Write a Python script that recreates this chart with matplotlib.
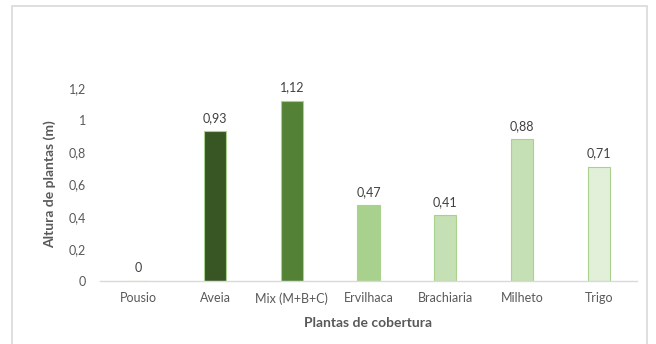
import matplotlib
matplotlib.use("Agg")
import matplotlib.pyplot as plt
from matplotlib.patches import Rectangle

categories = ["Pousio", "Aveia", "Mix (M+B+C)", "Ervilhaca", "Brachiaria", "Milheto", "Trigo"]
values = [0, 0.93, 1.12, 0.47, 0.41, 0.88, 0.71]
labels = ["0", "0,93", "1,12", "0,47", "0,41", "0,88", "0,71"]
yticks = [0, 0.2, 0.4, 0.6, 0.8, 1.0, 1.2]
yticklabels = ["0", "0,2", "0,4", "0,6", "0,8", "1", "1,2"]
colors = ["#c5e0b4", "#375623", "#538135", "#a9d18e", "#c5e0b4", "#c5e0b4", "#e2f0d9"]

plt.rcParams['font.family'] = ['Lato', 'DejaVu Sans']

fig = plt.figure(figsize=(6.56, 3.44), dpi=100)
fig.patch.set_facecolor("white")
fig.add_artist(Rectangle((12/656, -0.05), (647-12)/656, 1 - 6/344 + 0.05,
                         transform=fig.transFigure, fill=False,
                         edgecolor="#d9d9d9", linewidth=1.2))

ax = fig.add_axes([100/656, 1-281/344, 537/656, (281-88)/344])
x = range(len(categories))
ax.bar(x, values, width=0.29, color=colors, edgecolor="#a9d18e", linewidth=0.8, zorder=2)
for xi, v, lab in zip(x, values, labels):
    ax.text(xi, v + 0.045, lab, ha="center", va="bottom", fontsize=9, color="#404040")

ax.set_xlim(-0.5, len(categories) - 0.5)
ax.set_ylim(0, 1.2)
ax.set_yticks(yticks)
ax.set_yticklabels(yticklabels)
ax.set_xticks(list(x))
ax.set_xticklabels(categories)
ax.tick_params(axis="both", length=0, labelsize=9, colors="#595959")
ax.tick_params(axis="y", pad=10)
ax.tick_params(axis="x", pad=8)
for s in ["top", "right", "left"]:
    ax.spines[s].set_visible(False)
ax.spines["bottom"].set_color("#d9d9d9")
ax.spines["bottom"].set_linewidth(1)

ax.set_ylabel("Altura de plantas (m)", fontsize=10, fontweight="bold", color="#595959", labelpad=9)
ax.set_xlabel("Plantas de cobertura", fontsize=10, fontweight="bold", color="#595959", labelpad=9)

fig.savefig("out.png", dpi=100, facecolor="white")
